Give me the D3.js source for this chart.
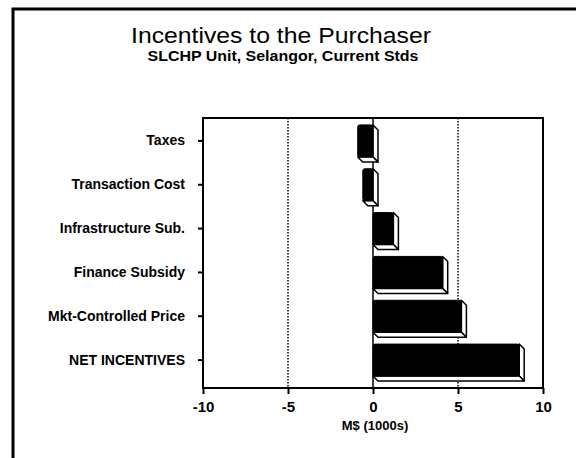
<!DOCTYPE html>
<html>
<head>
<meta charset="utf-8">
<script src="https://cdn.jsdelivr.net/npm/d3@7"></script>
<style>
  body { margin: 0; background: #fff; }
  svg text { font-family: "Liberation Sans", Arial, sans-serif; fill: #000; }
</style>
</head>
<body>
<svg id="chart" width="576" height="458"></svg>
<script>
// datos del grafico
var categorias = ["Taxes", "Transaction Cost", "Infrastructure Sub.", "Finance Subsidy", "Mkt-Controlled Price", "NET INCENTIVES"];
var valores = [-0.9, -0.6, 1.2, 4.1, 5.2, 8.6];
var ticks_x = [-10, -5, 0, 5, 10];
var grid_x = [-5, 5];

var svg = d3.select("#chart");

var plot = {left: 203, top: 118, right: 543, bottom: 388};
var prof = 5; // profundidad 3D

// marco exterior
svg.append("path")
  .attr("d", "M13,458 L13,9 L576,9")
  .attr("fill", "none")
  .attr("stroke", "#000")
  .attr("stroke-width", 3);

// titulos
svg.append("text")
  .attr("x", 281).attr("y", 43)
  .attr("text-anchor", "middle")
  .attr("textLength", 300)
  .attr("lengthAdjust", "spacingAndGlyphs")
  .style("font-size", "22px")
  .text("Incentives to the Purchaser");
svg.append("text")
  .attr("x", 283).attr("y", 61)
  .attr("text-anchor", "middle")
  .attr("textLength", 271)
  .attr("lengthAdjust", "spacingAndGlyphs")
  .style("font-size", "14px")
  .style("font-weight", "bold")
  .text("SLCHP Unit, Selangor, Current Stds");

var x = d3.scaleLinear().domain([-10, 10]).range([plot.left, plot.right]);
var y = d3.scaleBand().domain(categorias).range([119, 382])
  .paddingInner(0.27).paddingOuter(0.135);

// rejilla punteada
svg.selectAll("line.grid")
  .data(grid_x)
  .enter()
  .append("line")
  .attr("class", "grid")
  .attr("x1", function(d) { return x(d); })
  .attr("x2", function(d) { return x(d); })
  .attr("y1", plot.top).attr("y2", plot.bottom)
  .attr("stroke", "#000")
  .attr("stroke-width", 1.5)
  .attr("stroke-dasharray", "1.5,1.5");

// linea del cero
svg.append("line")
  .attr("x1", x(0)).attr("x2", x(0))
  .attr("y1", plot.top).attr("y2", plot.bottom)
  .attr("stroke", "#000")
  .attr("stroke-width", 1.5);

// barras 3D
var barras = svg.selectAll("g.barra")
  .data(valores)
  .enter()
  .append("g")
  .attr("class", "barra");

barras.each(function(d, i) {
  var g = d3.select(this);
  var x0 = x(Math.min(0, d)), x1 = x(Math.max(0, d));
  var y0 = y(categorias[i]), y1 = y0 + y.bandwidth();
  // cara lateral derecha
  g.append("path")
    .attr("d", "M" + x1 + "," + y0 + " L" + (x1 + prof) + "," + (y0 + prof) +
      " L" + (x1 + prof) + "," + (y1 + prof) + " L" + x1 + "," + y1 + "Z")
    .attr("fill", "#fff").attr("stroke", "#000").attr("stroke-width", 1.5)
    .attr("stroke-linejoin", "round");
  // cara inferior
  g.append("path")
    .attr("d", "M" + x0 + "," + y1 + " L" + x1 + "," + y1 + " L" + (x1 + prof) + "," + (y1 + prof) +
      " L" + (x0 + prof) + "," + (y1 + prof) + "Z")
    .attr("fill", "#fff").attr("stroke", "#000").attr("stroke-width", 1.5)
    .attr("stroke-linejoin", "round");
  // cara frontal
  g.append("rect")
    .attr("x", x0).attr("y", y0)
    .attr("width", x1 - x0).attr("height", y1 - y0)
    .attr("rx", 2)
    .attr("fill", "#000").attr("stroke", "#000").attr("stroke-width", 1);
});

// marco del grafico
svg.append("rect")
  .attr("x", plot.left).attr("y", plot.top)
  .attr("width", plot.right - plot.left).attr("height", plot.bottom - plot.top)
  .attr("fill", "none")
  .attr("stroke", "#000")
  .attr("stroke-width", 2);

// eje X
var xAxis = d3.axisBottom(x).tickValues(ticks_x).tickSize(6).tickPadding(7)
  .tickFormat(function(d) { return String(d); });
var gx = svg.append("g")
  .attr("transform", "translate(0," + plot.bottom + ")")
  .call(xAxis);
gx.select(".domain").remove();
gx.selectAll(".tick line").attr("stroke", "#000").attr("stroke-width", 2);
gx.selectAll(".tick text")
  .style("font-size", "15px")
  .style("font-weight", "bold")
  .style("font-family", "'Liberation Sans', Arial, sans-serif");

svg.append("text")
  .attr("x", 375).attr("y", 430)
  .attr("text-anchor", "middle")
  .style("font-size", "13px")
  .style("font-weight", "bold")
  .text("M$ (1000s)");

// eje Y
var yAxis = d3.axisLeft(y).tickSize(5).tickPadding(13);
var gy = svg.append("g")
  .attr("transform", "translate(" + plot.left + ",0)")
  .call(yAxis);
gy.select(".domain").remove();
gy.selectAll(".tick line").attr("stroke", "#000").attr("stroke-width", 2);
gy.selectAll(".tick text")
  .style("font-size", "14px")
  .style("font-weight", "bold")
  .style("font-family", "'Liberation Sans', Arial, sans-serif");
</script>
</body>
</html>
